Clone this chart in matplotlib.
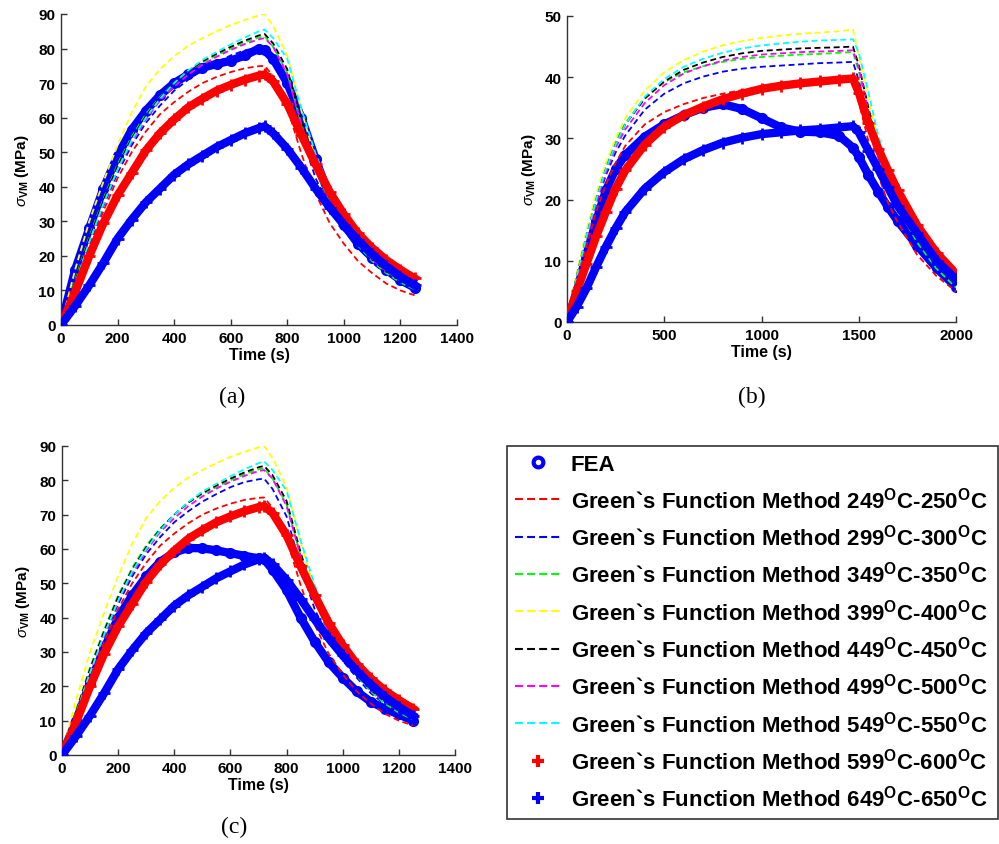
import matplotlib
matplotlib.use('Agg')
import matplotlib.pyplot as plt
from matplotlib.lines import Line2D

# ---- data ----
# panels (a) and (c): shared time grid and Green's function curves
t_ac = [0, 50, 100, 150, 200, 250, 300, 350, 400, 450, 500, 550, 600, 650, 700,
        720, 750, 800, 850, 900, 950, 1000, 1050, 1100, 1150, 1200, 1250]
gf250_ac = [0, 11.5, 22.5, 33, 42.5, 50, 56, 61, 64.5, 67.5, 70, 71.8, 73.2, 74.3, 74.9,
            75, 72, 63, 49.5, 38, 29.5, 23.5, 18.5, 15, 12, 10, 8.6]
gf300_ac = [0, 12, 23.5, 34.5, 44, 52, 58.5, 63.5, 67.8, 71, 73.8, 76, 78, 79.5, 80.3,
            80.5, 77.5, 69.5, 55, 42.5, 34, 27.5, 22.5, 18, 14.8, 12.2, 10.5]
gf350_ac = [0, 13, 25.5, 36.5, 46.5, 54.5, 61, 66, 70, 73.5, 76, 78, 80, 81.8, 83.2,
            83.5, 80.5, 73, 58, 45, 35.5, 28.5, 23, 18.5, 15, 12.3, 10.3]
gf400_ac = [0, 16, 30, 41.5, 52, 61.5, 69, 74, 77.8, 80.8, 83, 85, 86.8, 88.3, 89.6,
            90, 86.5, 78, 62, 48, 38, 31, 25.5, 21, 17.5, 14.8, 12.5]
gf450_ac = [0, 12.5, 25, 36, 46, 54, 60.5, 65.8, 70, 73.5, 76.3, 78.5, 80.5, 82.3, 83.8,
            84.2, 81.5, 74, 59, 46, 36.5, 29, 23.5, 19, 15.5, 13, 11.3]
gf500_ac = [0, 12, 24, 35, 44.8, 53, 59.5, 65, 69, 72.5, 75.3, 77.6, 79.6, 81.3, 82.7,
            83, 80.5, 72.5, 58, 45.5, 36, 29, 23.5, 19, 15.5, 12.8, 11]
gf550_ac = [0, 12, 24, 35, 45, 53.5, 60, 65.5, 70, 73.7, 76.7, 79, 81.2, 83.2, 85,
            85.5, 83, 77, 62.5, 49.5, 39.5, 32.5, 27, 22.8, 19.2, 16.5, 14.2]
gf600_ac = [0, 9.5, 20, 29.5, 37.5, 44, 50.5, 55.5, 59.5, 63, 65.5, 67.8, 69.5, 71, 72.2,
            72.5, 70.5, 64, 55, 46.5, 38.5, 32, 26.5, 22.3, 18.8, 16, 13.5]
gf650_ac = [0, 5.5, 11.5, 18, 25, 30.5, 35.5, 39.5, 43.5, 46.5, 49, 51.5, 53.5, 55.5, 57,
            57.5, 55.5, 51, 45.5, 39.5, 34, 29, 24.5, 20.5, 17, 14, 11.5]
fea_a = [0, 16, 28, 39.5, 49, 56.5, 62, 66.5, 70, 72.5, 74.5, 75.5, 76.5, 78, 80,
         79.5, 77, 70, 60, 48, 37, 29, 23.5, 19.5, 16, 13, 10.8]
fea_c = [0, 10, 21, 31, 40, 46.5, 52, 56.3, 59, 60.3, 60.2, 59.6, 58.8, 58, 57.3,
         57, 54, 48, 40, 33, 27, 22.5, 18.5, 15.5, 13.5, 11.8, 10]

# panel (b)
t_b = [0, 50, 100, 150, 200, 250, 300, 400, 500, 600, 700, 800, 900, 1000, 1100,
       1200, 1300, 1400, 1470, 1500, 1550, 1600, 1650, 1700, 1800, 1900, 2000]
gf250_b = [0, 6.5, 12.5, 18, 22.5, 26, 28.8, 32.3, 34.3, 35.6, 36.6, 37.3, 37.9, 38.4, 38.8,
           39.1, 39.3, 39.4, 39.5, 36, 29.5, 24, 19.5, 16.3, 11, 7.5, 5]
gf300_b = [0, 7, 13.5, 19.2, 24, 27.7, 30.5, 34.7, 37.3, 39, 40.1, 40.9, 41.4, 41.7, 41.9,
           42.1, 42.3, 42.4, 42.5, 39.5, 33, 27, 22, 18.3, 12.8, 8.7, 6]
gf350_b = [0, 7.5, 14.2, 20.3, 25.5, 29.5, 32.5, 36.6, 39.2, 40.8, 41.8, 42.5, 43, 43.3, 43.5,
           43.7, 43.8, 44, 44.1, 41, 34, 27.5, 22.5, 18.7, 13, 8.7, 5.6]
gf400_b = [0, 8, 15, 21, 26, 30, 33.3, 37.8, 40.8, 42.8, 44.2, 45.2, 45.9, 46.4, 46.8,
           47.1, 47.3, 47.5, 47.8, 43.5, 36.5, 29.5, 24.5, 20.5, 14.8, 10.6, 7.6]
gf450_b = [0, 7.5, 14, 20, 25, 29, 32.3, 36.5, 39.3, 41.2, 42.4, 43.3, 43.9, 44.3, 44.5,
           44.7, 44.8, 44.9, 45, 42, 35, 28.5, 23.5, 19.8, 14, 9.8, 6.8]
gf500_b = [0, 7, 13.5, 19.5, 24.5, 28.5, 31.5, 35.8, 38.7, 40.6, 41.8, 42.7, 43.3, 43.7, 43.9,
           44.1, 44.2, 44.3, 44.4, 41.5, 34.5, 28, 23, 19.3, 13.6, 9.4, 6.5]
gf550_b = [0, 7.5, 14, 20, 25, 29, 32.3, 36.8, 39.7, 41.7, 43, 44, 44.7, 45.2, 45.5,
           45.8, 46, 46.1, 46.2, 44, 37.5, 30.5, 25.5, 21.8, 15.8, 11.3, 8]
gf600_b = [0, 5, 9.5, 14, 18, 21.8, 24.8, 29, 31.9, 33.8, 35.2, 36.4, 37.3, 38.1, 38.6,
           39, 39.3, 39.6, 39.8, 37.5, 32.5, 28.3, 24.8, 21.5, 15.8, 11.3, 7.9]
gf650_b = [0, 2.5, 5.5, 9, 12.3, 15.3, 18, 21.8, 24.5, 26.6, 28.1, 29.3, 30.1, 30.7, 31,
           31.3, 31.5, 31.8, 32, 31, 28, 25, 22, 19, 14.5, 10, 7]
fea_b = [0, 5, 11, 16.5, 21.5, 25, 27.3, 30.3, 32.3, 33.8, 35, 35.6, 34.8, 33.3, 31.8,
         31.1, 31, 30.4, 28.5, 27, 24, 21.3, 18.8, 16.5, 12.5, 8.8, 5.7]

dash_colors = ['#ff0000', '#0000ff', '#00ff00', '#ffff00', '#000000', '#ff00ff', '#00ffff']
ranges = ['249', '299', '349', '399', '449', '499', '549', '599', '649']
legend_labels = ['FEA'] + [
    'Green`s Function Method ' + lo + r'$^{\mathbf{O}}$C-' + str(int(lo) + 1) + r'$^{\mathbf{O}}$C'
    for lo in ranges]

plt.rcParams['font.family'] = ['Liberation Sans', 'DejaVu Sans']
plt.rcParams['mathtext.fontset'] = 'custom'
plt.rcParams['mathtext.rm'] = 'Liberation Sans'
plt.rcParams['mathtext.bf'] = 'Liberation Sans:bold'
plt.rcParams['mathtext.it'] = 'Liberation Sans:italic'

DASH = (0, (3.3, 2))


def draw_panel(ax, t, dashed, red_plus, blue_plus, fea, xmax, xticks, ymax, yticks):
    ax.plot(t, fea, color='b', lw=6, marker='o', ms=6, mew=2, mfc='none', zorder=2)
    for vals, col in zip(dashed, dash_colors):
        ax.plot(t, vals, color=col, lw=1.3, ls=DASH, zorder=3)
    ax.plot(t, red_plus, color='r', lw=6, marker='+', ms=8, mew=2, zorder=4)
    ax.plot(t, blue_plus, color='b', lw=6, marker='+', ms=8, mew=2, zorder=4)
    ax.set_xlim(0, xmax)
    ax.set_ylim(0, ymax)
    ax.set_xticks(xticks)
    ax.set_yticks(yticks)
    for s in ['top', 'right']:
        ax.spines[s].set_visible(False)
    for s in ['left', 'bottom']:
        ax.spines[s].set_color('#333333')
        ax.spines[s].set_linewidth(1.0)
    ax.tick_params(direction='in', length=4, width=1, color='#333333',
                   labelsize=11, pad=4)
    for lab in ax.get_xticklabels() + ax.get_yticklabels():
        lab.set_fontweight('bold')
    ax.set_xlabel('Time (s)', fontsize=11.5, fontweight='bold', labelpad=2)
    ax.set_ylabel(r'$\sigma_{\mathbf{VM}}$ (MPa)', fontsize=11, fontweight='bold', labelpad=5)


fig = plt.figure(figsize=(9.99, 8.45), dpi=100)
W, H = 999, 845


def box(l, t, r, b):
    return [l / W, 1 - b / H, (r - l) / W, (b - t) / H]


ax_a = fig.add_axes(box(61, 15, 457, 326))
ax_b = fig.add_axes(box(567, 17, 956, 323))
ax_c = fig.add_axes(box(62, 447, 455, 756))

dashed_ac = [gf250_ac, gf300_ac, gf350_ac, gf400_ac, gf450_ac, gf500_ac, gf550_ac]
dashed_b = [gf250_b, gf300_b, gf350_b, gf400_b, gf450_b, gf500_b, gf550_b]

draw_panel(ax_a, t_ac, dashed_ac, gf600_ac, gf650_ac, fea_a,
           1400, range(0, 1401, 200), 90, range(0, 91, 10))
draw_panel(ax_b, t_b, dashed_b, gf600_b, gf650_b, fea_b,
           2000, range(0, 2001, 500), 50, range(0, 51, 10))
draw_panel(ax_c, t_ac, dashed_ac, gf600_ac, gf650_ac, fea_c,
           1400, range(0, 1401, 200), 90, range(0, 91, 10))

for txt, x, y in [('(a)', 232, 397), ('(b)', 752, 397), ('(c)', 234, 827)]:
    fig.text(x / W, 1 - y / H, txt, ha='center', va='center',
             family='Liberation Serif', fontsize=17)

# legend built from proxy handles
handles = [Line2D([], [], color='b', ls='none', marker='o', ms=7, mew=3, mfc='none')]
for col in dash_colors:
    handles.append(Line2D([], [], color=col, lw=1.5, ls=(0, (3.8, 2))))
handles.append(Line2D([], [], color='r', ls='none', marker='+', ms=9, mew=3))
handles.append(Line2D([], [], color='b', ls='none', marker='+', ms=9, mew=3))

leg = fig.legend(handles, legend_labels, loc='upper left',
                 bbox_to_anchor=(507 / W, 1 - 447 / H, (998 - 507) / W, 0),
                 mode='expand', borderaxespad=0, fancybox=False, framealpha=1,
                 prop={'weight': 'bold', 'size': 16}, handlelength=2.07,
                 handletextpad=0.45, borderpad=0.35, labelspacing=0.515)
leg.get_frame().set_edgecolor('#333333')
leg.get_frame().set_linewidth(1.2)

fig.savefig('out.png', dpi=100)
